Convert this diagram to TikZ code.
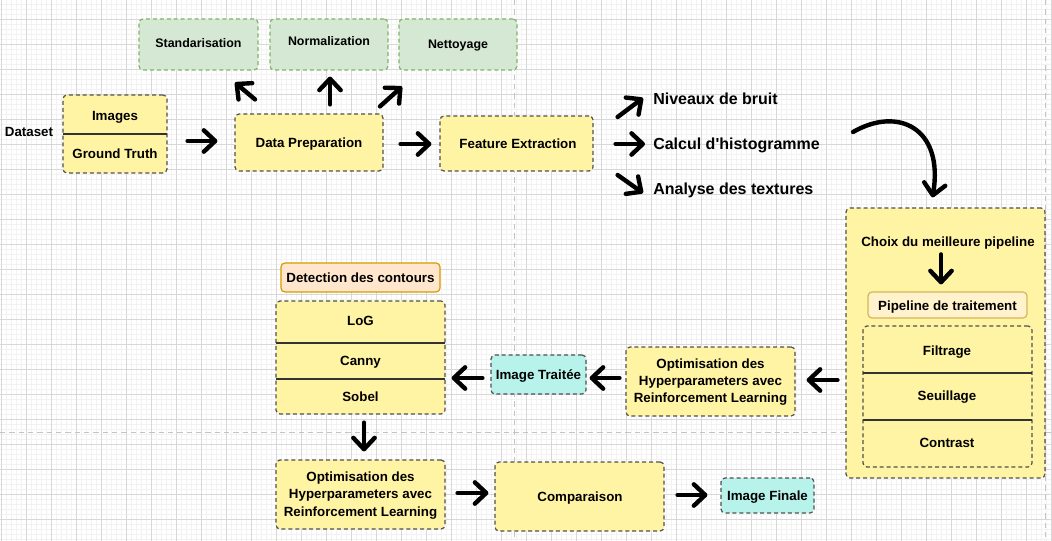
\documentclass[tikz,border=0pt]{standalone}
\usepackage{fontspec}
\newfontfamily\lsans{Liberation Sans}
\usetikzlibrary{arrows.meta,fit,calc}
\definecolor{ylw}{HTML}{FFF4A3}
\definecolor{cyn}{HTML}{B8F3EB}
\definecolor{grnf}{HTML}{D5E8D4}
\definecolor{grnd}{HTML}{82B366}
\definecolor{orf}{HTML}{FFE6CC}
\definecolor{ord}{HTML}{D79B00}
\definecolor{pipf}{HTML}{FFF2CC}
\definecolor{pipd}{HTML}{D6B656}
\definecolor{bdr}{HTML}{505050}
\definecolor{gridmin}{HTML}{F2F2F2}
\definecolor{gridmaj}{HTML}{D8D8D8}
\definecolor{pagebrk}{HTML}{C4C4C4}
\begin{document}
\begin{tikzpicture}[x=0.75pt,y=-0.75pt,
  every node/.style={font=\lsans\bfseries\fontsize{10}{13}\selectfont, inner sep=0pt, align=center, text height=7.2pt, text depth=0pt},
  ml/.style={text height=, text depth=},
  box/.style={inner sep=0pt, rounded corners=3pt, draw=bdr, line width=0.9pt, dash pattern=on 3pt off 2.2pt},
  ybox/.style={box, fill=ylw},
  cbox/.style={box, fill=cyn},
  gbox/.style={box, fill=grnf, draw=grnd},
  gtxt/.style={font=\lsans\bfseries\fontsize{9.3}{11}\selectfont, text height=6.7pt},
  sbox/.style={inner sep=0pt, rounded corners=3pt, line width=0.9pt},
  div/.style={draw=black!80, line width=1.1pt},
  arr/.style={line width=3.3pt, line cap=round, -{Straight Barb[length=8.5pt,width=16pt,line cap=round,line join=round]}},
  lbl/.style={font=\lsans\bfseries\fontsize{12}{14}\selectfont, anchor=west, text height=8.6pt},
  minorline/.style={draw=gridmin, line width=0.75pt},
  majorline/.style={draw=gridmaj, line width=0.75pt},
  brk/.style={draw=pagebrk, line width=0.75pt, dash pattern=on 4pt off 3pt}
]
\useasboundingbox (0,0) rectangle (1052,541);
\fill[white] (0,0) rectangle (1052,541);
% grid
\foreach \i in {0,...,210} \draw[minorline] ({1.7+5*\i},0) -- ({1.7+5*\i},541);
\foreach \i in {0,...,108} \draw[minorline] (0,{4.3+5*\i}) -- (1052,{4.3+5*\i});
\foreach \i in {0,...,42} \draw[majorline] ({1.7+25*\i},0) -- ({1.7+25*\i},541);
\foreach \i in {0,...,21} \draw[majorline] (0,{19.3+25*\i}) -- (1052,{19.3+25*\i});
\draw[brk] (514.5,0) -- (514.5,541);
\draw[brk] (1045.5,0) -- (1045.5,541);
\draw[brk] (0,432) -- (1052,432);

% top row
\node (dataset) at (29,132) {Dataset};
\node[ybox, fit={(63,95) (167,173)}] (imgs) {};
\draw[div] (63,134) -- (167,134);
\node (imgtxt) at (115,116) {Images};
\node (gttxt) at (115,154) {Ground Truth};

\node[ybox, fit={(235,114) (383,171)}] (prep) {};
\node (preptxt) at (309,143) {Data Preparation};
\node[gbox, fit={(139,19) (258,70)}] (std) {};
\node[gtxt] (stdtxt) at (198.5,43) {Standarisation};
\node[gbox, fit={(270,19) (388,70)}] (norm) {};
\node[gtxt] (normtxt) at (329,41) {Normalization};
\node[gbox, fit={(399,19) (517,70)}] (nett) {};
\node[gtxt] (netttxt) at (458,44) {Nettoyage};

\node[ybox, fit={(440,116) (593,171)}] (feat) {};
\node (feattxt) at (518,143.5) {Feature Extraction};
\node[lbl] (niv) at (653,99) {Niveaux de bruit};
\node[lbl] (cal) at (653,144) {Calcul d'histogramme};
\node[lbl] (ana) at (653,189) {Analyse des textures};

% right pipeline block
\node[ybox, fit={(846,208) (1045,478)}] (big) {};
\node (choix) at (948,242) {Choix du meilleure pipeline};
\node[sbox, draw=pipd, fill=pipf, fit={(868,292) (1027,318)}] (pipe) {};
\node (pipetxt) at (947.5,305.5) {Pipeline de traitement};
\node[ybox, fit={(863,326) (1032,467)}] (filt) {};
\draw[div] (863,373) -- (1032,373);
\draw[div] (863,420) -- (1032,420);
\node (f1) at (947,351) {Filtrage};
\node (f2) at (947,396) {Seuillage};
\node (f3) at (947,443) {Contrast};

% middle row
\node[ybox, fit={(626,347) (795,416)}] (opt1) {};
\node[ml] (opt1txt) at (710.5,382) {Optimisation des\\Hyperparameters avec\\Reinforcement Learning};
\node[cbox, fit={(491,355) (586,394)}] (trait) {};
\node (traittxt) at (538.5,375) {Image Traitée};
\node[sbox, draw=ord, fill=orf, fit={(281,263) (440,292)}] (det) {};
\node (dettxt) at (360.5,278) {Detection des contours};
\node[ybox, fit={(276,301) (445,414)}] (edges) {};
\draw[div] (276,343) -- (445,343);
\draw[div] (276,379) -- (445,379);
\node (e1) at (360.5,321) {LoG};
\node (e2) at (360.5,361) {Canny};
\node (e3) at (360.5,397) {Sobel};

% bottom row
\node[ybox, fit={(276,460) (445,529)}] (opt2) {};
\node[ml] (opt2txt) at (360.5,495.5) {Optimisation des\\Hyperparameters avec\\Reinforcement Learning};
\node[ybox, fit={(495,462) (664,531)}] (comp) {};
\node (comptxt) at (580,496.5) {Comparaison};
\node[cbox, fit={(721,478) (814,513)}] (fin) {};
\node (fintxt) at (767.5,496) {Image Finale};

% arrows
\draw[arr] ($(imgs.east)+(20,7)$) -- ($(prep.west)+(-17,-1.5)$);
\draw[arr] ($(prep.north)+(-54,-14)$) -- ($(std.south)+(36.5,12)$);
\draw[arr] ($(prep.north)+(21,-9)$) -- ($(norm.south)+(1,6)$);
\draw[arr] ($(prep.north)+(71,-7)$) -- ($(nett.south)+(-56,16)$);
\draw[arr] ($(prep.east)+(17,1.5)$) -- ($(feat.west)+(-8,0.5)$);
\draw[arr] ($(feat.east)+(24,-26.5)$) -- ($(niv.west)+(-10,-1)$);
\draw[arr] ($(feat.east)+(22,0.5)$) -- ($(cal.west)+(-8,0)$);
\draw[arr] ($(feat.east)+(24,31.5)$) -- ($(ana.west)+(-10,4)$);
\draw[arr] ($(cal.east)+(33,-12)$) .. controls (898,106) and (944,128) .. ($(big.north)+(-13,-10)$);
\draw[arr] ($(pipe.north)+(-6.5,-37)$) -- ($(pipe.north)+(-6.5,-7)$);
\draw[arr] ($(big.west)+(-8,37)$) -- ($(opt1.east)+(11,-1.5)$);
\draw[arr] ($(opt1.west)+(-6,-3.5)$) -- ($(trait.east)+(3,3.5)$);
\draw[arr] ($(trait.west)+(-8,3.5)$) -- ($(edges.east)+(6,20.5)$);
\draw[arr] ($(edges.south)+(3.5,8)$) -- ($(opt2.north)+(3.5,-8)$);
\draw[arr] ($(opt2.east)+(12,-1.5)$) -- ($(comp.west)+(-6,-3.5)$);
\draw[arr] ($(comp.east)+(13,-1.5)$) -- ($(fin.west)+(-13,-0.5)$);
\end{tikzpicture}
\end{document}
